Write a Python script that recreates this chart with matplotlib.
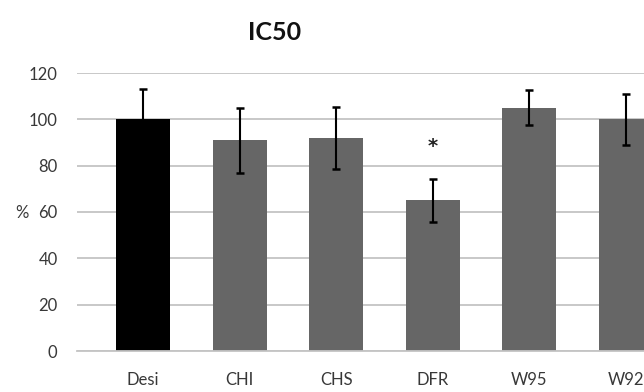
import matplotlib
matplotlib.use("Agg")
import matplotlib.pyplot as plt
import numpy as np

categories = ["Desi", "CHI", "CHS", "DFR", "W95", "W92"]
values = [100, 91, 92, 65, 105, 100]
errors = [13, 14, 13.5, 9.2, 7.5, 11]
bar_colors = ["#000000", "#666666", "#666666", "#666666", "#666666", "#666666"]
significant = ["", "", "", "*", "", ""]
yticks = [0, 20, 40, 60, 80, 100, 120]

plt.rcParams['font.family'] = ['Lato', 'DejaVu Sans']

W, H = 644, 392
fig = plt.figure(figsize=(W / 100, H / 100), dpi=100)
ax_left, ax_right, ax_bottom, ax_top = 77, 644, 351, 73
ax = fig.add_axes([ax_left / W, 1 - ax_bottom / H, (ax_right - ax_left) / W, (ax_bottom - ax_top) / H])

x = np.arange(len(categories))
ax.bar(x, values, width=0.56, color=bar_colors, zorder=2)
ax.errorbar(x, values, yerr=errors, fmt="none", ecolor="#000000",
            elinewidth=1.5, capsize=3.2, capthick=1.8, zorder=3)
for xi, v, e, s in zip(x, values, errors, significant):
    if s:
        ax.text(xi, v + e + 14, s, ha="center", va="center", fontsize=14,
                color="#222222", family="DejaVu Sans", fontweight="bold")

ax.set_xlim(-0.684, 5.19)
ax.set_ylim(0, 120)
ax.set_yticks(yticks)
ax.yaxis.grid(True, color="#c4c4c4", linewidth=1.3, zorder=0)
ax.set_axisbelow(True)
for side in ["top", "right", "left"]:
    ax.spines[side].set_visible(False)
ax.spines["bottom"].set_color("#c4c4c4")
ax.spines["bottom"].set_linewidth(1.3)
ax.tick_params(axis="both", length=0, labelsize=12, labelcolor="#383838")
ax.tick_params(axis="y", pad=14)
ax.tick_params(axis="x", pad=15)
ax.set_xticks(x)
ax.set_xticklabels(categories)

fig.text(22 / W, 1 - 213 / H, "%", ha="center", va="center", fontsize=12, color="#383838")
fig.text(275 / W, 1 - 33 / H, "IC50", ha="center", va="center", fontsize=18,
         fontweight="bold", color="#111111")

fig.savefig("out.png", dpi=100)
